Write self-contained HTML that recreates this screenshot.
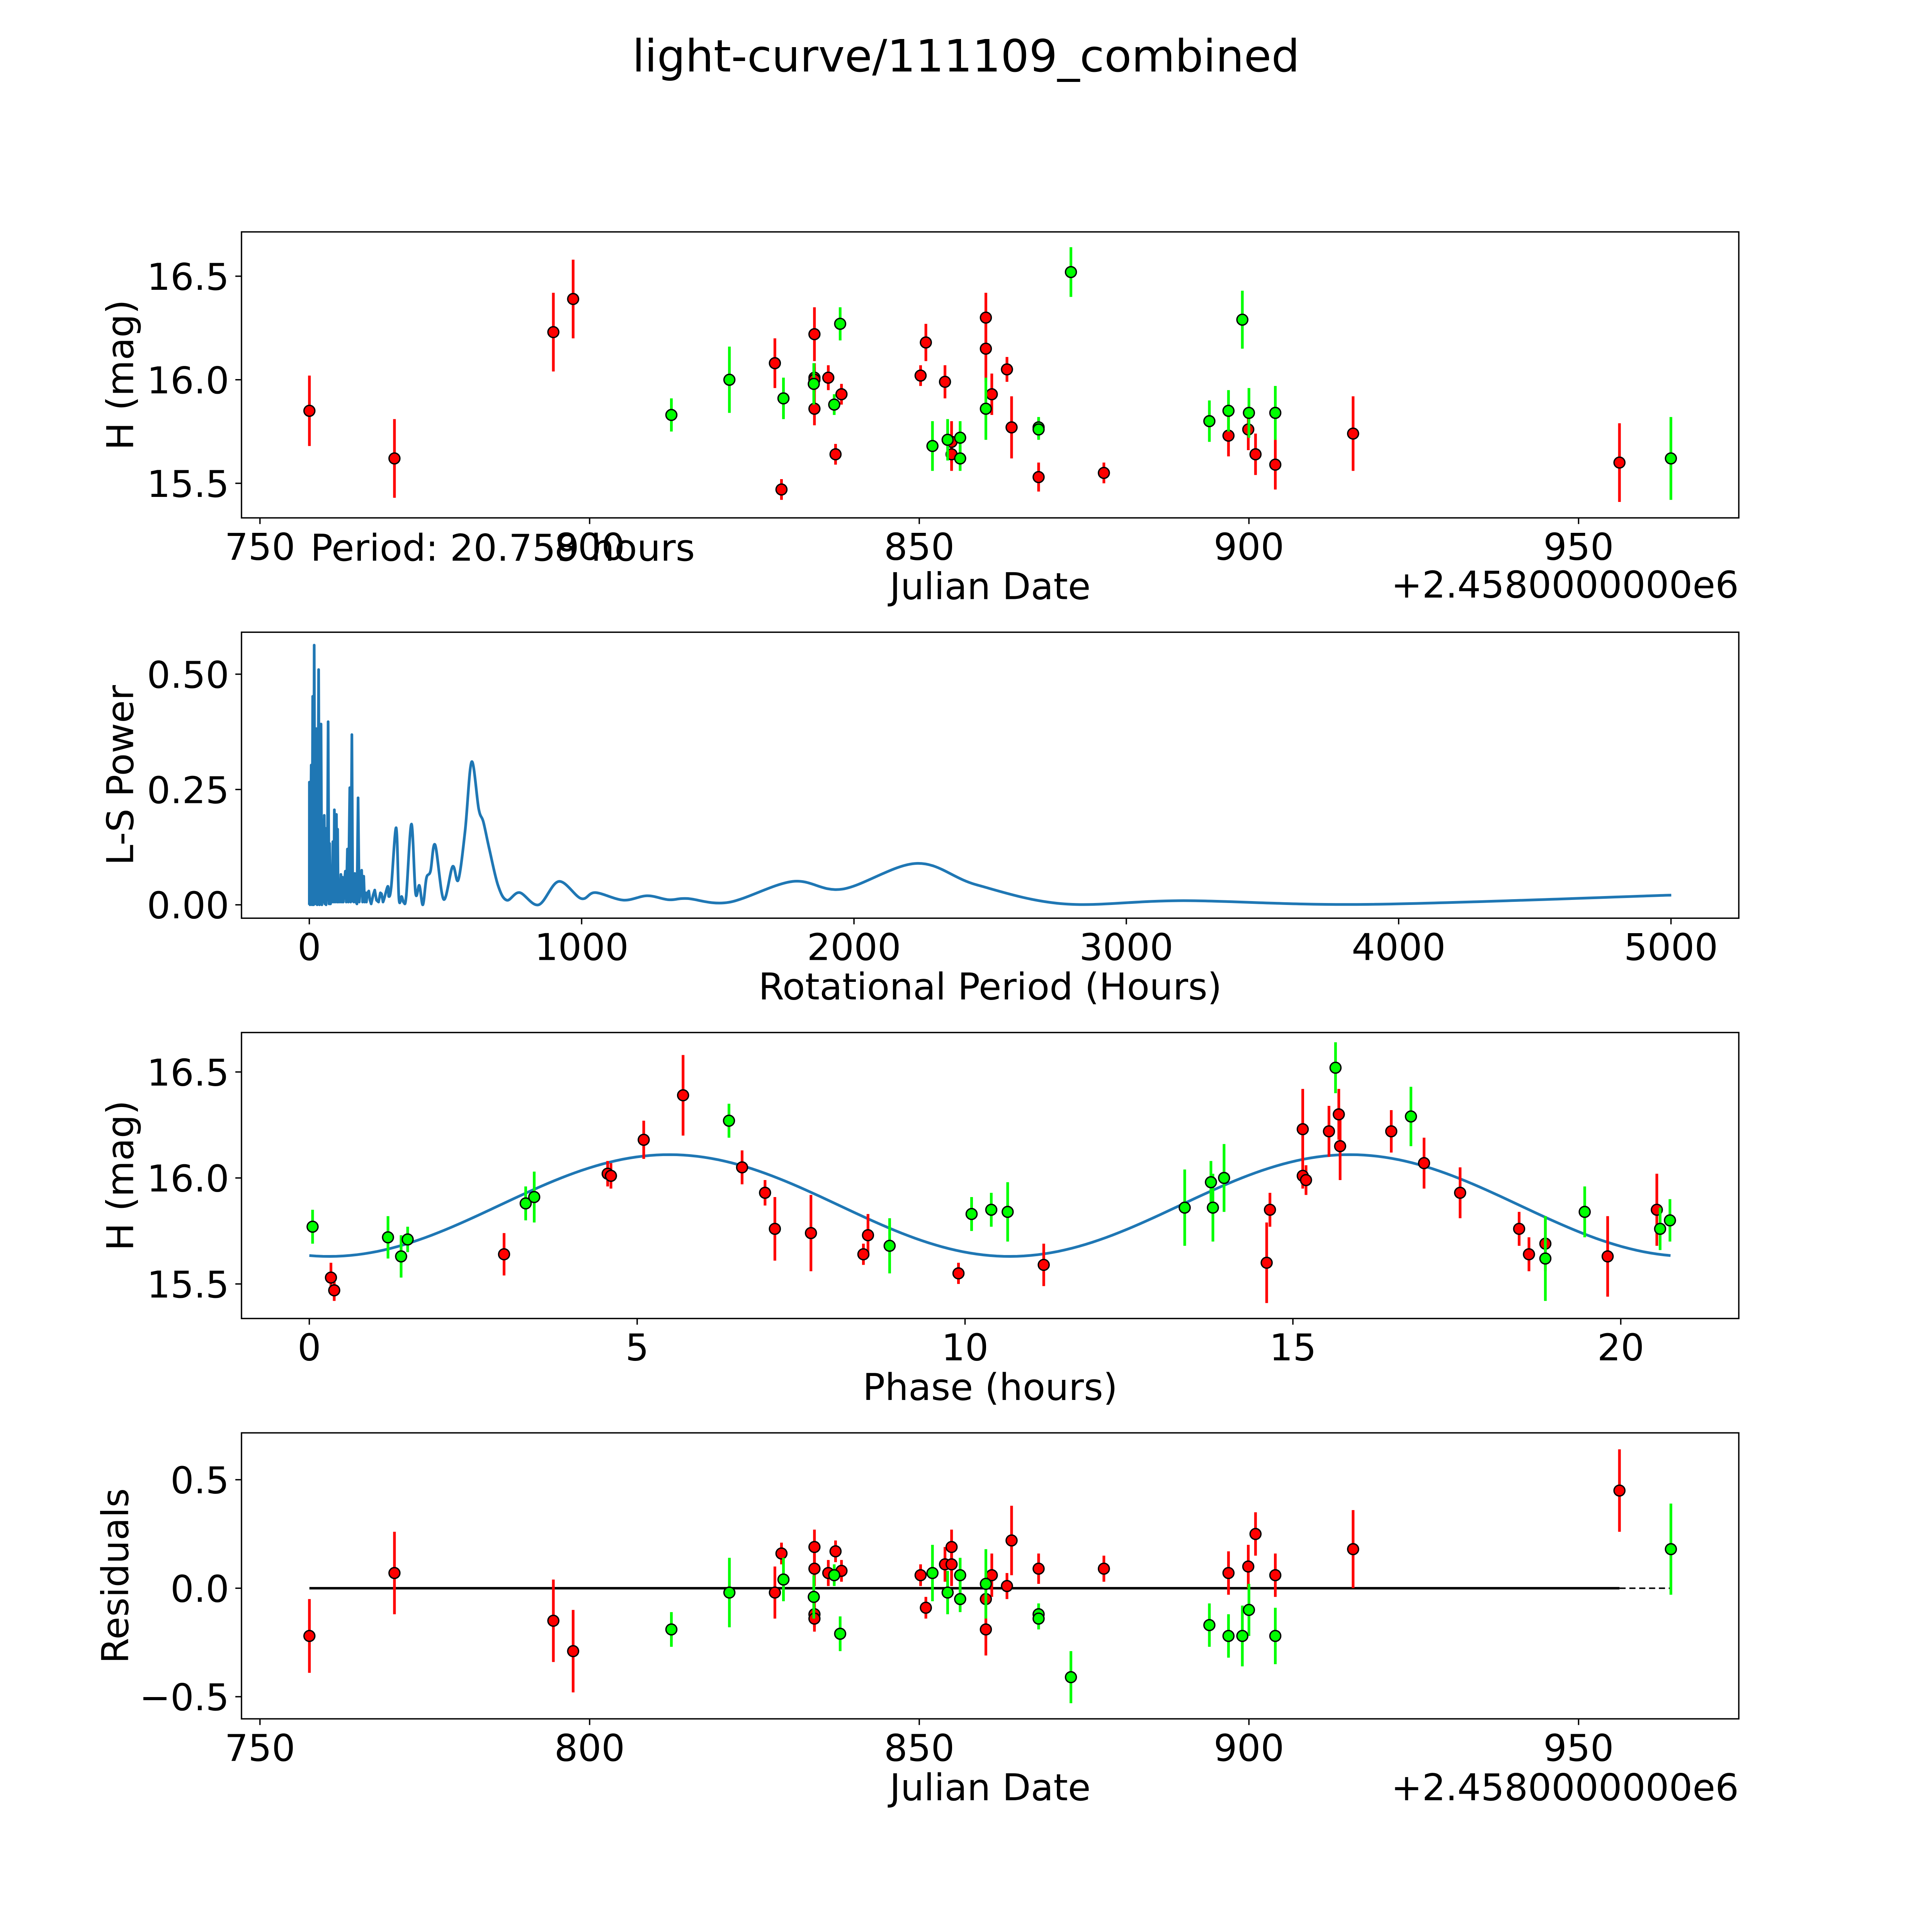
<!DOCTYPE html>
<html><head><meta charset="utf-8"><style>
html,body{margin:0;padding:0;background:#fff;overflow:hidden;width:100vw;height:100vh;}
svg{display:block;width:100vw;height:100vh;}
text{font-family:"DejaVu Sans","Liberation Sans",sans-serif;fill:#000;}
</style></head><body>
<svg id="fig" xmlns="http://www.w3.org/2000/svg" viewBox="0 0 1568 1568" preserveAspectRatio="xMinYMin meet">
<rect x="0" y="0" width="1568" height="1568" fill="#fff"/>
<text x="784" y="58" font-size="36.2" text-anchor="middle">light-curve/111109_combined</text>
</svg>
<script>
// ---------- DATA ----------
// Light curve (top panel)
const lcRedJD   = [757.5,770.4,794.5,797.5,828.1,829.1,834.1,834.1,834.1,834.1,836.2,837.3,838.2,850.2,851.0,853.9,854.9,854.9,860.1,860.1,861.0,863.3,864.0,868.1,878.0,896.9,899.9,901.0,904.0,915.8,956.2];
const lcRedMag  = [15.85,15.62,16.23,16.39,16.08,15.47,16.22,16.01,16.00,15.86,16.01,15.64,15.93,16.02,16.18,15.99,15.64,15.70,16.30,16.15,15.93,16.05,15.77,15.53,15.55,15.73,15.76,15.64,15.59,15.74,15.60];
const lcRedErr  = [0.17,0.19,0.19,0.19,0.12,0.05,0.13,0.07,0.06,0.08,0.06,0.05,0.05,0.05,0.09,0.08,0.08,0.10,0.12,0.16,0.10,0.06,0.15,0.07,0.05,0.10,0.10,0.10,0.12,0.18,0.19];
const lcGrnJD   = [812.4,821.2,829.4,834.0,837.1,838.0,852.0,854.3,856.2,856.2,860.1,868.1,868.1,873.0,894.0,896.9,899.0,900.0,904.0,964.0];
const lcGrnMag  = [15.83,16.00,15.91,15.98,15.88,16.27,15.68,15.71,15.72,15.62,15.86,15.77,15.76,16.52,15.80,15.85,16.29,15.84,15.84,15.62];
const lcGrnErr  = [0.08,0.16,0.10,0.10,0.05,0.08,0.12,0.10,0.08,0.06,0.15,0.05,0.05,0.12,0.10,0.10,0.14,0.12,0.13,0.20];

// Periodogram
const lsPeriod = [0,0.3,2.6,7,10,12.4,15.7,17.9,21.1,25.5,28.8,32,34.2,37.5,39.7,43,46.2,49.5,51.6,54.9,57.1,59.3,61.5,65.8,69.1,72.4,74.5,77.8,81.1,84.3,86.5,89.8,92,95.2,99.6,101.8,103.9,106.1,110.5,112.7,115.9,119.2,121.4,124.6,129,132.3,135.5,139.9,143.2,148.6,151.9,156.3,159.5,163.9,167.1,171.5,174.8,179.1,183.5,187.9,192.2,195.5,199.8,203.1,207.5,209.6,214,218.4,222.7,227.1,230.3,234.7,240.2,246.7,254.3,260.9,265.2,270.6,288,292,301,319,329,339,347,356,375,390,404,417,430,445,462,493,526,547,572,596,622,639,661,693,725,772,842,916,998,1050,1153,1241,1320,1388,1540,1775,1957,2230,2450,2772,3212,3887,5001];
const lsPower  = [0,0.266,0,0.303,0,0.452,0,0.563,0.002,0.382,0,0.208,0.510,0,0.390,0.392,0,0.184,0.006,0.194,0.002,0.166,0,0.042,0.397,0.002,0.133,0.002,0.046,0.006,0.137,0.006,0.206,0.006,0.196,0.006,0.164,0.006,0.036,0.006,0.066,0.006,0.060,0.006,0.050,0.073,0.006,0.121,0.006,0.254,0.006,0.369,0.008,0.006,0.068,0.006,0.002,0.232,0.006,0.042,0.075,0.006,0.062,0.006,0.026,0.006,0.026,0.030,0.010,0.002,0.010,0.022,0.032,0.010,0.006,0.026,0.024,0.006,0.04,0.018,0.04,0.167,0.014,0.018,0.005,0.02,0.175,0.026,0.042,0.0,0.058,0.073,0.13,0.012,0.083,0.054,0.16,0.31,0.208,0.18,0.121,0.042,0.010,0.0265,0.0,0.0507,0.0136,0.0265,0.0102,0.0196,0.011,0.0136,0.0054,0.0507,0.034,0.0898,0.0434,0.002,0.009,0.001,0.021];

// Phased light curve
const phRedPh  = [0.33,0.38,2.97,4.55,4.6,5.1,5.7,6.6,6.95,7.1,7.65,8.45,8.52,9.9,11.2,14.6,14.65,15.15,15.15,15.2,15.55,15.7,15.72,16.5,17.0,17.55,18.45,18.6,18.85,19.8,20.55];
const phRedMag = [15.53,15.47,15.64,16.02,16.01,16.18,16.39,16.05,15.93,15.76,15.74,15.64,15.73,15.55,15.59,15.60,15.85,16.23,16.01,15.99,16.22,16.30,16.15,16.22,16.07,15.93,15.76,15.64,15.69,15.63,15.85];
const phRedErr = [0.07,0.05,0.1,0.06,0.06,0.09,0.19,0.08,0.06,0.15,0.18,0.05,0.10,0.05,0.10,0.19,0.08,0.19,0.06,0.07,0.12,0.12,0.16,0.10,0.12,0.12,0.08,0.08,0.13,0.19,0.17];
const phGrnPh  = [0.05,1.2,1.4,1.5,3.3,3.43,6.4,8.85,10.1,10.4,10.65,13.35,13.75,13.78,13.95,15.65,16.8,18.85,19.45,20.6,20.75];
const phGrnMag = [15.77,15.72,15.63,15.71,15.88,15.91,16.27,15.68,15.83,15.85,15.84,15.86,15.98,15.86,16.00,16.52,16.29,15.62,15.84,15.76,15.80];
const phGrnErr = [0.08,0.1,0.1,0.06,0.08,0.12,0.08,0.13,0.08,0.08,0.14,0.18,0.10,0.16,0.16,0.12,0.14,0.2,0.12,0.1,0.1];
const modelMean = [15.87];
const modelAmp = [0.24];
const modelHalfPeriod = [10.3795];
const modelPhase0 = [0.3];
const modelRange = [0, 20.759];

// Residuals
const rsRedJD  = [757.5,770.4,794.5,797.5,828.1,829.1,834.1,834.1,834.1,834.1,836.2,837.3,838.2,850.2,851.0,853.9,854.9,854.9,860.1,860.1,861.0,863.3,864.0,868.1,878.0,896.9,899.9,901.0,904.0,915.8,956.2];
const rsRedVal = [-0.22,0.07,-0.15,-0.29,-0.02,0.16,0.19,0.09,-0.12,-0.14,0.07,0.17,0.08,0.06,-0.09,0.11,0.19,0.11,-0.05,-0.19,0.06,0.01,0.22,0.09,0.09,0.07,0.10,0.25,0.06,0.18,0.45];
const rsRedErr = [0.17,0.19,0.19,0.19,0.12,0.05,0.08,0.08,0.06,0.06,0.06,0.05,0.05,0.05,0.05,0.08,0.08,0.10,0.12,0.12,0.10,0.06,0.16,0.07,0.06,0.10,0.10,0.10,0.10,0.18,0.19];
const rsGrnJD  = [812.4,821.2,829.4,834.0,837.1,838.0,852.0,854.3,856.2,856.2,860.1,868.1,868.1,873.0,894.0,896.9,899.0,900.0,904.0,964.0];
const rsGrnVal = [-0.19,-0.02,0.04,-0.04,0.06,-0.21,0.07,-0.02,0.06,-0.05,0.02,-0.12,-0.14,-0.41,-0.17,-0.22,-0.22,-0.10,-0.22,0.18];
const rsGrnErr = [0.08,0.16,0.10,0.10,0.05,0.08,0.13,0.10,0.08,0.06,0.16,0.05,0.05,0.12,0.10,0.10,0.14,0.12,0.13,0.21];
const rsLineSolid = [757.5, 956.2];
const rsLineDash = [956.2, 964.0];

// Ticks
const jdTicks = [750,800,850,900,950];
const magTicks = [16.5,16.0,15.5];
const lsXTicks = [0,1000,2000,3000,4000,5000];
const lsYTicks = [0.00,0.25,0.50];
const phXTicks = [0,5,10,15,20];
const resTicks = [0.5,0.0,-0.5];

// ---------- DRAWING ----------
const NS = "http://www.w3.org/2000/svg";
const svg = document.getElementById('fig');
const AX_L = 196, AX_W = 1215.2, AX_H = 232.1;
const AX_TOPS = [188.2, 513.1, 838.0, 1162.9];
const FS = 30;
function mk(tag, attrs, parent){
  const e = document.createElementNS(NS, tag);
  for (const k in attrs) e.setAttribute(k, attrs[k]);
  (parent||svg).appendChild(e);
  return e;
}
function scale(d0,d1,r0,r1){ return v => r0 + (v-d0)/(d1-d0)*(r1-r0); }

function makeAxes(i, xlim, ylim, name){
  const top = AX_TOPS[i];
  const g = mk('g', {});
  
  
  return {g, top, sx: scale(xlim[0],xlim[1],AX_L,AX_L+AX_W), sy: scale(ylim[0],ylim[1],top+AX_H,top)};
}
function frame(ax){
  const r = mk('rect', {x:AX_L, y:ax.top, width:AX_W, height:AX_H, fill:'none', stroke:'#000', 'stroke-width':1.1}, ax.g);
  
  
}
function xticks(ax, ticks, fmt){
  const y0 = ax.top + AX_H;
  ticks.forEach(t => {
    const x = ax.sx(t);
    mk('line', {x1:x, x2:x, y1:y0, y2:y0+5, stroke:'#000', 'stroke-width':1.1}, ax.g);
    const tx = mk('text', {x:x, y:y0+34, 'font-size':FS, 'text-anchor':'middle'}, ax.g);
    tx.textContent = fmt(t);
    
    
  });
}
function yticks(ax, ticks, fmt){
  ticks.forEach(t => {
    const y = ax.sy(t);
    mk('line', {x1:AX_L-5, x2:AX_L, y1:y, y2:y, stroke:'#000', 'stroke-width':1.1}, ax.g);
    const tx = mk('text', {x:AX_L-10, y:y+11, 'font-size':FS, 'text-anchor':'end'}, ax.g);
    tx.textContent = fmt(t);
    
    
  });
}
function xlabel(ax, txt, name){
  const t = mk('text', {x:AX_L+AX_W/2, y:ax.top+AX_H+66, 'font-size':FS, 'text-anchor':'middle'}, ax.g);
  t.textContent = txt;
  
  
}
function ylabel(ax, txt, name, x){
  const cy = ax.top + AX_H/2;
  const t = mk('text', {x:x, y:cy, 'font-size':FS, 'text-anchor':'middle', transform:`rotate(-90 ${x} ${cy})`}, ax.g);
  t.textContent = txt;
  
  
}
function points(ax, xs, ys, es, color, name){
  const g = mk('g', {}, ax.g);
  
  
  xs.forEach((xv, k) => {
    const x = ax.sx(xv);
    const l = mk('line', {x1:x, x2:x, y1:ax.sy(ys[k]+es[k]), y2:ax.sy(ys[k]-es[k]), stroke:color, 'stroke-width':2.2}, g);
    
    
  });
  xs.forEach((xv, k) => {
    const c = mk('circle', {cx:ax.sx(xv), cy:ax.sy(ys[k]), r:4.4, fill:color, stroke:'#000', 'stroke-width':1.1}, g);
    
    
  });
}
function clip(ax, id){
  const cp = mk('clipPath', {id:id});
  mk('rect', {x:AX_L, y:ax.top, width:AX_W, height:AX_H}, cp);
}

// Panel 1
const a1 = makeAxes(0, [747.2, 974.3], [15.333, 16.714], 'light-curve-panel');
points(a1, lcRedJD, lcRedMag, lcRedErr, '#ff0000', 'red-series');
points(a1, lcGrnJD, lcGrnMag, lcGrnErr, '#00ff00', 'green-series');
frame(a1);
xticks(a1, jdTicks, t => String(t));
yticks(a1, magTicks, t => t.toFixed(1));
xlabel(a1, 'Julian Date', 'x-axis-title');
ylabel(a1, 'H (mag)', 'y-axis-title', 108);
let off = mk('text', {x:AX_L+AX_W, y:485, 'font-size':FS, 'text-anchor':'end'}, a1.g);
off.textContent = '+2.4580000000e6';


let per = mk('text', {x:252, y:455, 'font-size':FS}, svg);
per.textContent = 'Period: 20.759 hours';



// Panel 2
const a2 = makeAxes(1, [-249, 5249], [-0.029, 0.591], 'periodogram-panel');
clip(a2, 'c2');
const P = lsPeriod.map((p,k) => [a2.sx(p), a2.sy(lsPower[k])]);
let d2 = 'M' + P[0][0].toFixed(2) + ',' + P[0][1].toFixed(2);
for (let k = 1; k < P.length; k++){
  if (lsPeriod[k-1] < 270){
    d2 += 'L' + P[k][0].toFixed(2) + ',' + P[k][1].toFixed(2);
  } else {
    const p0 = P[k-2] || P[k-1], p1 = P[k-1], p2 = P[k], p3 = P[k+1] || P[k];
    const c1 = [p1[0] + (p2[0]-p0[0])/6, p1[1] + (p2[1]-p0[1])/6];
    const c2 = [p2[0] - (p3[0]-p1[0])/6, p2[1] - (p3[1]-p1[1])/6];
    d2 += 'C' + c1[0].toFixed(2) + ',' + c1[1].toFixed(2) + ' ' + c2[0].toFixed(2) + ',' + c2[1].toFixed(2) + ' ' + p2[0].toFixed(2) + ',' + p2[1].toFixed(2);
  }
}
const lsLine = mk('path', {d:d2, fill:'none', stroke:'#1f77b4', 'stroke-width':2.2, 'stroke-linejoin':'round', 'clip-path':'url(#c2)'}, a2.g);


frame(a2);
xticks(a2, lsXTicks, t => String(t));
yticks(a2, lsYTicks, t => t.toFixed(2));
xlabel(a2, 'Rotational Period (Hours)', 'x-axis-title');
ylabel(a2, 'L-S Power', 'y-axis-title', 108);

// Panel 3
const a3 = makeAxes(2, [-1.034, 21.80], [15.337, 16.686], 'phase-panel');
let pts = [];
for (let k = 0; k <= 200; k++){
  const ph = modelRange[0] + (modelRange[1]-modelRange[0])*k/200;
  const m = modelMean[0] - modelAmp[0]*Math.cos(2*Math.PI*(ph-modelPhase0[0])/modelHalfPeriod[0]);
  pts.push((k?'L':'M') + a3.sx(ph).toFixed(2) + ',' + a3.sy(m).toFixed(2));
}
const model = mk('path', {d:pts.join(''), fill:'none', stroke:'#1f77b4', 'stroke-width':2.2}, a3.g);


points(a3, phRedPh, phRedMag, phRedErr, '#ff0000', 'red-series');
points(a3, phGrnPh, phGrnMag, phGrnErr, '#00ff00', 'green-series');
frame(a3);
xticks(a3, phXTicks, t => String(t));
yticks(a3, magTicks, t => t.toFixed(1));
xlabel(a3, 'Phase (hours)', 'x-axis-title');
ylabel(a3, 'H (mag)', 'y-axis-title', 108);

// Panel 4
const a4 = makeAxes(3, [747.2, 974.3], [-0.602, 0.716], 'residuals-panel');
const zl = mk('line', {x1:a4.sx(rsLineSolid[0]), x2:a4.sx(rsLineSolid[1]), y1:a4.sy(0), y2:a4.sy(0), stroke:'#000', 'stroke-width':2}, a4.g);


const zd = mk('line', {x1:a4.sx(rsLineDash[0]), x2:a4.sx(rsLineDash[1]), y1:a4.sy(0), y2:a4.sy(0), stroke:'#000', 'stroke-width':1.2, 'stroke-dasharray':'5,3'}, a4.g);


points(a4, rsRedJD, rsRedVal, rsRedErr, '#ff0000', 'red-series');
points(a4, rsGrnJD, rsGrnVal, rsGrnErr, '#00ff00', 'green-series');
frame(a4);
xticks(a4, jdTicks, t => String(t));
yticks(a4, resTicks, t => (t<0?'\u22120.5':t.toFixed(1)));
xlabel(a4, 'Julian Date', 'x-axis-title');
ylabel(a4, 'Residuals', 'y-axis-title', 104);
off = mk('text', {x:AX_L+AX_W, y:a4.top+AX_H+66, 'font-size':FS, 'text-anchor':'end'}, a4.g);
off.textContent = '+2.4580000000e6';


</script>
</body></html>
